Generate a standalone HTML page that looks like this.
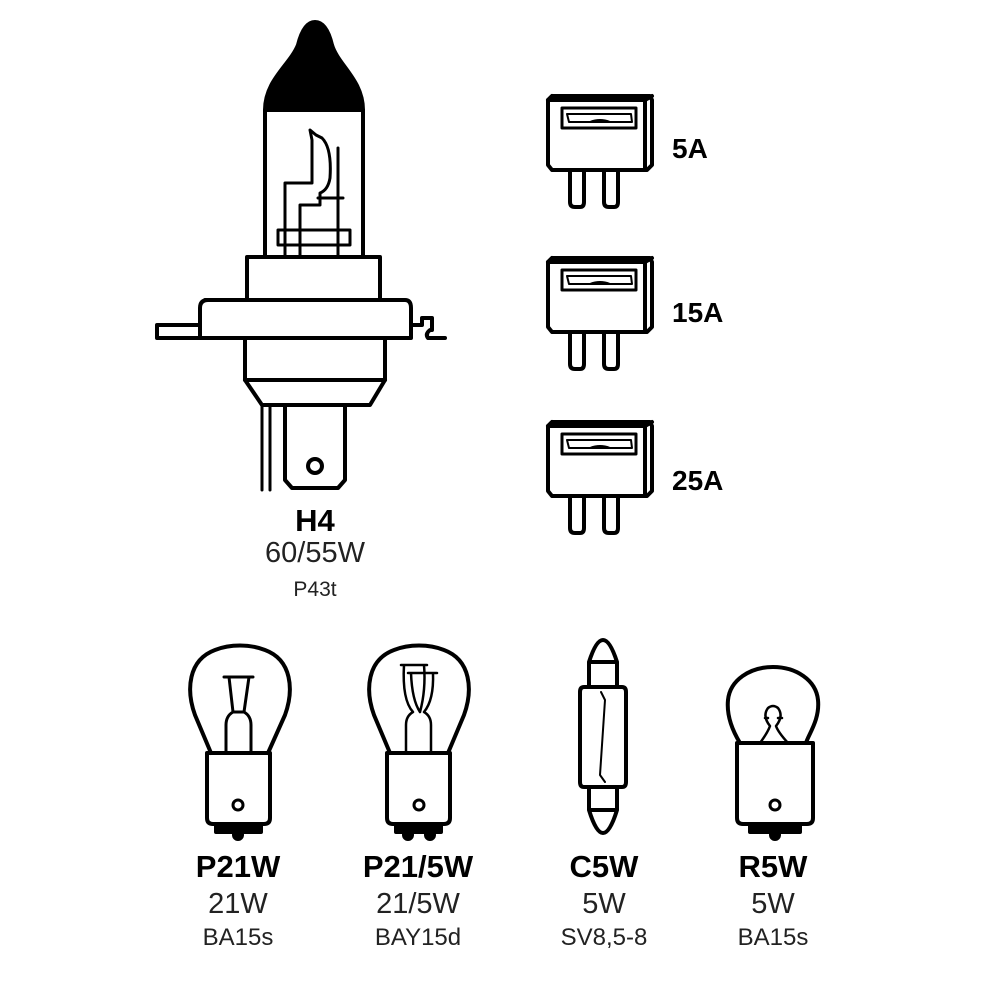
<!DOCTYPE html>
<html><head><meta charset="utf-8"><style>
html,body{margin:0;padding:0;background:#fff;}
svg{display:block}
text{font-family:"Liberation Sans",sans-serif;fill:#000;text-anchor:middle}
.b{font-weight:bold;font-size:31px}
.m{font-size:29px;fill:#222}
.s{font-size:24px;fill:#222}
</style></head><body>
<svg width="1000" height="1000" viewBox="0 0 1000 1000" xmlns="http://www.w3.org/2000/svg">
<g fill="none" stroke="#000" stroke-width="4" stroke-linejoin="round" stroke-linecap="round">
<!-- H4 -->
<path d="M265 110 C265 80 290 65 298 45 C303 25 310 22 315 22 C322 22 328 28 332 45 C338 65 363 80 363 110 Z" fill="#000"/>
<path d="M265 110 V257 M363 110 V257"/>
<path d="M247 257 H380 V300 H247 Z"/>
<path d="M205 300 H405 Q411 300 411 308 V338 H200 V308 Q200 300 208 300"/>
<path d="M157 325 H200 V338 H157 Z"/>
<path d="M411 325 H422 V318 H432 V330 H430 Q425 334 428 338 H445"/>
<path d="M245 338 H385 V380 H245 Z"/>
<path d="M245 380 L262 405 H370 L385 380"/>
<path d="M285 405 V480 L292 488 H338 L345 480 V405"/>
<circle cx="315" cy="466" r="7"/>
<path d="M262 405 V490 M270 405 V490" stroke-width="3"/>
<g stroke-width="3">
<path d="M285 257 V183 H312 V140 L310 130 L316 135 L322 138 Q332 148 330 178 Q328 190 320 193 V205 H300 V257"/>
<path d="M338 148 V257 M343 198 H318"/>
<path d="M278 230 H350 V245 H278 Z"/>
</g>
<!-- fuses -->
<g id="fuse">
<path d="M548 100 L552 96 H650 L652 100 V165 L647 170 H552 L548 165 Z"/>
<path d="M552 96 L548 100 M548 100 H645 V170 M645 100 L652 96"/>
<path d="M562 108 H636 V128 H562 Z" stroke-width="3"/>
<path d="M567 114 H631 M567 114 L569 122 H632 L631 114 M590 122 Q600 118 610 122" stroke-width="2"/>
<path d="M570 170 V202 Q570 207 575 207 H580 Q584 207 584 202 V170 M604 172 V202 Q604 207 609 207 H614 Q618 207 618 202 V172"/>
</g>
<use href="#fuse" y="162"/>
<use href="#fuse" y="326"/>
<!-- P21W -->
<path d="M211 753 L195 715 C186 690 188 660 215 650 C230 644 250 644 265 650 C292 660 294 690 285 715 L268 753"/>
<path d="M207 753 H270 V818 Q270 824 264 824 H213 Q207 824 207 818 Z"/>
<path d="M216 824 H261 V832 H216 Z" fill="#000"/>
<circle cx="238" cy="835" r="4" fill="#000"/>
<circle cx="238" cy="805" r="5" stroke-width="3"/>
<g stroke-width="3"><path d="M224 677 H253 M229 677 L233 712 Q226 716 226 725 V753 M249 677 L244 712 Q251 716 251 725 V753 M233 712 H244"/></g>
<!-- P21/5W -->
<path d="M390 753 L374 715 C365 690 367 660 394 650 C409 644 429 644 444 650 C471 660 473 690 464 715 L448 753"/>
<path d="M387 753 H450 V818 Q450 824 444 824 H393 Q387 824 387 818 Z"/>
<path d="M396 824 H441 V832 H396 Z" fill="#000"/>
<circle cx="408" cy="835" r="4" fill="#000"/><circle cx="430" cy="835" r="4" fill="#000"/>
<circle cx="419" cy="805" r="5" stroke-width="3"/>
<g stroke-width="2.5"><path d="M401 665 H427 M408 673 H437 M404 665 Q402 700 413 712 M424 665 Q426 690 420 712 M411 673 Q412 700 420 712 M433 673 Q434 700 424 712 M413 712 Q406 716 406 725 V753 M424 712 Q431 716 431 725 V753"/></g>
<!-- C5W -->
<path d="M584 687 Q580 687 580 692 V782 Q580 787 584 787 H622 Q626 787 626 782 V692 Q626 687 622 687 Z"/>
<path d="M589 687 V662 Q596 640 603 640 Q610 640 617 662 V687 M589 662 H617"/>
<path d="M589 787 V810 Q596 833 603 833 Q610 833 617 810 V787 M589 810 H617"/>
<path d="M601 692 L605 700 L600 775 L605 782" stroke-width="2"/>
<!-- R5W -->
<path d="M740 743 Q726 720 728 700 C730 680 750 667 773 667 C796 667 816 680 818 700 C820 720 808 735 806 743"/>
<path d="M737 743 H813 V818 Q813 824 807 824 H743 Q737 824 737 818 Z"/>
<path d="M750 824 H800 V832 H750 Z" fill="#000"/>
<circle cx="775" cy="835" r="4" fill="#000"/>
<circle cx="775" cy="805" r="5" stroke-width="3"/>
<path d="M760 743 Q768 732 770 726 Q762 716 768 708 Q773 704 778 708 Q784 716 776 726 Q778 732 788 743 M765 718 H768 M778 718 H782" stroke-width="2.5"/>
</g>
<text x="315" y="531" class="b">H4</text>
<text x="315" y="562" class="m">60/55W</text>
<text x="315" y="596" class="s" style="font-size:21px">P43t</text>
<text x="672" y="158" class="b" style="text-anchor:start;font-size:28px">5A</text>
<text x="672" y="322" class="b" style="text-anchor:start;font-size:28px">15A</text>
<text x="672" y="490" class="b" style="text-anchor:start;font-size:28px">25A</text>
<text x="238" y="877" class="b">P21W</text>
<text x="238" y="913" class="m">21W</text>
<text x="238" y="945" class="s">BA15s</text>
<text x="418" y="877" class="b">P21/5W</text>
<text x="418" y="913" class="m">21/5W</text>
<text x="418" y="945" class="s">BAY15d</text>
<text x="604" y="877" class="b">C5W</text>
<text x="604" y="913" class="m">5W</text>
<text x="604" y="945" class="s">SV8,5-8</text>
<text x="773" y="877" class="b">R5W</text>
<text x="773" y="913" class="m">5W</text>
<text x="773" y="945" class="s">BA15s</text>
</svg>
</body></html>
